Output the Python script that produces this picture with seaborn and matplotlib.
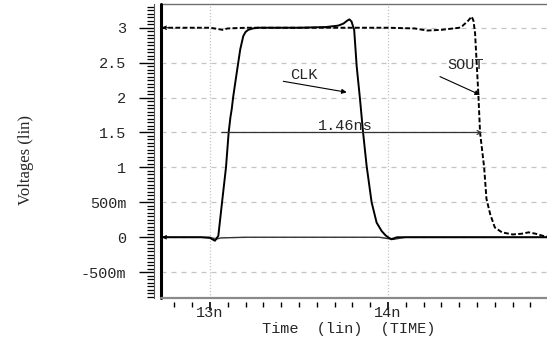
import matplotlib
matplotlib.use("Agg")
import matplotlib.pyplot as plt
from matplotlib.ticker import MultipleLocator, FixedLocator, FixedFormatter
import seaborn as sns
import pandas as pd

# ---------------- data (time in ns, voltage in V) ----------------
clk_t = [12.725, 12.95, 13.00, 13.028, 13.047, 13.07, 13.09, 13.105, 13.115, 13.122,
         13.131, 13.15, 13.17, 13.187, 13.20, 13.215, 13.24, 13.27, 13.35, 13.50,
         13.65, 13.72, 13.75, 13.77, 13.783, 13.795, 13.81, 13.824, 13.843, 13.86,
         13.88, 13.908, 13.936, 13.964, 13.985, 14.0, 14.02, 14.05, 14.2, 14.893]
clk_v = [0.0, 0.0, -0.01, -0.05, 0.02, 0.55, 1.0, 1.5, 1.72, 1.83,
         2.02, 2.35, 2.69, 2.88, 2.94, 2.97, 2.99, 3.0, 3.0, 3.0,
         3.01, 3.03, 3.06, 3.10, 3.12, 3.09, 2.97, 2.45, 1.97, 1.5,
         1.02, 0.5, 0.21, 0.09, 0.03, 0.0, -0.03, 0.0, 0.0, 0.0]

sout_t = [12.725, 13.0, 13.05, 13.07, 13.1, 13.2, 13.5, 14.0, 14.15, 14.22,
          14.3, 14.4, 14.42, 14.45, 14.47, 14.48, 14.489, 14.507, 14.517, 14.54,
          14.553, 14.574, 14.6, 14.64, 14.7, 14.75, 14.79, 14.83, 14.87, 14.893]
sout_v = [3.0, 3.0, 2.98, 2.97, 2.99, 3.0, 3.0, 3.0, 2.99, 2.96,
          2.97, 3.0, 3.03, 3.10, 3.16, 3.10, 2.92, 2.07, 1.5, 1.0,
          0.55, 0.33, 0.14, 0.07, 0.04, 0.05, 0.07, 0.05, 0.02, 0.01]

gnd_t = [12.725, 13.0, 13.03, 13.06, 13.2, 13.95, 14.0, 14.03, 14.1, 14.893]
gnd_v = [0.0, 0.0, -0.03, -0.01, 0.0, 0.0, -0.02, -0.03, 0.0, 0.0]

x_tick_pos = [13, 14]
x_tick_labels = ["13n", "14n"]
y_tick_pos = [-0.5, 0, 0.5, 1, 1.5, 2, 2.5, 3]
y_tick_labels = ["-500m", "0", "500m", "1", "1.5", "2", "2.5", "3"]

# annotations
clk_label = ("CLK", 13.528, 2.33)
clk_arrow = ((13.412, 2.233), (13.768, 2.076))
sout_label = ("SOUT", 14.435, 2.47)
sout_arrow = ((14.292, 2.30), (14.517, 2.04))
meas_label = ("1.46ns", 13.758, 1.6)
meas_line = ((13.066, 1.5), (14.53, 1.5))

# ---------------- plot ----------------
sns.set_style("white")
plt.rcParams["font.family"] = ["Liberation Mono", "DejaVu Sans"]

fig = plt.figure(figsize=(5.47, 3.39), dpi=100)
ax = fig.add_axes([161 / 547, 41 / 339, 386 / 547, 294 / 339])

xmin, xmax = 12.725, 14.893
ymin, ymax = -0.87, 3.34
ax.set_xlim(xmin, xmax)
ax.set_ylim(ymin, ymax)

# ticks / grid
ax.yaxis.set_major_locator(FixedLocator(y_tick_pos))
ax.yaxis.set_major_formatter(FixedFormatter(y_tick_labels))
ax.yaxis.set_minor_locator(MultipleLocator(0.05))
ax.xaxis.set_major_locator(FixedLocator(x_tick_pos))
ax.xaxis.set_major_formatter(FixedFormatter(x_tick_labels))
ax.xaxis.set_minor_locator(MultipleLocator(0.1))
ax.grid(False)
for yv in y_tick_pos:
    ax.axhline(yv, color="#c4c4c4", lw=0.9, ls=(0, (4, 4)), zorder=0)
for xv in x_tick_pos:
    ax.axvline(xv, color="#c4c4c4", lw=0.9, ls=(0, (1, 1.5)), zorder=0)

df_gnd = pd.DataFrame({"t": gnd_t, "v": gnd_v})
df_clk = pd.DataFrame({"t": clk_t, "v": clk_v})
df_sout = pd.DataFrame({"t": sout_t, "v": sout_v})
sns.lineplot(data=df_gnd, x="t", y="v", ax=ax, color="#333333", lw=1.0, estimator=None, sort=False)
sns.lineplot(data=df_clk, x="t", y="v", ax=ax, color="black", lw=1.4, estimator=None, sort=False)
sns.lineplot(data=df_sout, x="t", y="v", ax=ax, color="black", lw=1.4, estimator=None, sort=False)
ax.lines[-1].set_dashes((2.5, 1.2))

# spines
ax.spines["right"].set_visible(False)
ax.spines["top"].set_color("#707070")
ax.spines["top"].set_linewidth(1.0)
ax.spines["left"].set_position(("outward", 5))
ax.spines["left"].set_color("#555555")
ax.spines["left"].set_linewidth(0.8)
ax.spines["bottom"].set_position(("outward", 3))
ax.spines["bottom"].set_visible(False)
ax.plot([0, 0], [0, 1], transform=ax.transAxes, color="black", lw=2.2, clip_on=False, zorder=5)
ax.plot([0, 1], [0, 0], transform=ax.transAxes, color="#8a8a8a", lw=1.6, clip_on=False, zorder=5)

ax.tick_params(axis="y", which="major", direction="out", length=11, width=1.0, color="black",
               pad=9, labelsize=11, left=True)
ax.tick_params(axis="y", which="minor", direction="out", length=5, width=0.9, color="black", left=True)
ax.tick_params(axis="x", which="major", direction="out", length=6, width=1.2, color="black",
               pad=-3, labelsize=11, bottom=True)
ax.tick_params(axis="x", which="minor", direction="out", length=3.5, width=1.0, color="black", bottom=True)

ax.set_xlabel("Time  (lin)  (TIME)", fontsize=11, labelpad=0)
ax.xaxis.set_label_coords(0.486, -0.082)
ax.set_ylabel("Voltages (lin)", fontsize=12, family=["Liberation Serif"], labelpad=0)
ax.yaxis.set_label_coords(-0.33, 0.47)

# annotations
ax.text(clk_label[1], clk_label[2], clk_label[0], ha="center", va="center", fontsize=11)
ax.annotate("", xy=clk_arrow[1], xytext=clk_arrow[0],
            arrowprops=dict(arrowstyle="-|>", color="black", lw=0.8, mutation_scale=7, shrinkA=0, shrinkB=0))
ax.text(sout_label[1], sout_label[2], sout_label[0], ha="center", va="center", fontsize=11)
ax.annotate("", xy=sout_arrow[1], xytext=sout_arrow[0],
            arrowprops=dict(arrowstyle="-|>", color="black", lw=0.8, mutation_scale=7, shrinkA=0, shrinkB=0))
ax.text(meas_label[1], meas_label[2], meas_label[0], ha="center", va="center", fontsize=11)
ax.annotate("", xy=meas_line[1], xytext=meas_line[0],
            arrowprops=dict(arrowstyle="->", color="#333333", lw=0.9, mutation_scale=7, shrinkA=0, shrinkB=0))
# left-edge trace markers
for yv in (3.0, 0.0):
    ax.annotate("", xy=(xmin + 0.005, yv), xytext=(xmin + 0.04, yv),
                arrowprops=dict(arrowstyle="->", color="black", lw=0.8, mutation_scale=6, shrinkA=0, shrinkB=0))

fig.savefig("out.png", dpi=100)
